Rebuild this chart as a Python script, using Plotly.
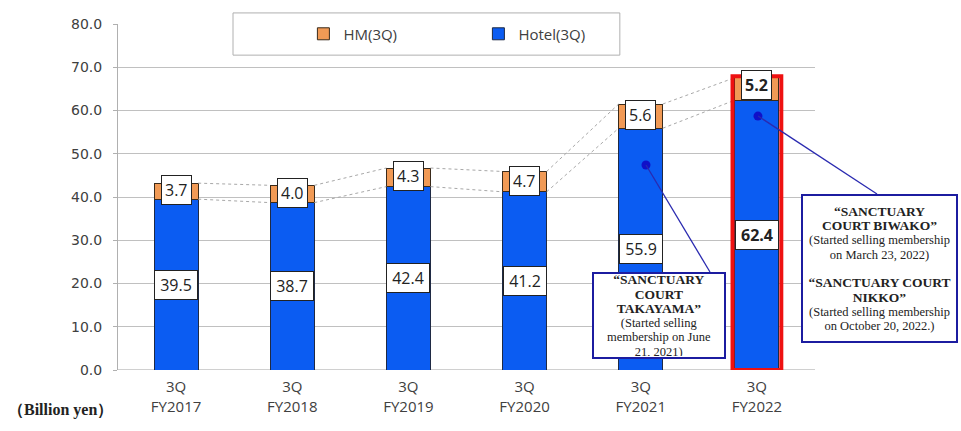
import plotly.graph_objects as go

categories = ["3Q<br>FY2017", "3Q<br>FY2018", "3Q<br>FY2019", "3Q<br>FY2020", "3Q<br>FY2021", "3Q<br>FY2022"]
hotel = [39.5, 38.7, 42.4, 41.2, 55.9, 62.4]
hm = [3.7, 4.0, 4.3, 4.7, 5.6, 5.2]
y_ticks = [0, 10, 20, 30, 40, 50, 60, 70, 80]

BLUE = "#0b5cf2"
ORANGE = "#f19a55"
BW = 0.38
xs = list(range(len(categories)))
totals = [h + m for h, m in zip(hotel, hm)]

fig = go.Figure()
fig.add_trace(go.Bar(x=xs, y=hotel, name="Hotel(3Q)", width=BW,
                     marker=dict(color=BLUE, line=dict(color="#1f2a44", width=1))))
fig.add_trace(go.Bar(x=xs, y=hm, name="HM(3Q)", width=BW,
                     marker=dict(color=ORANGE, line=dict(color="#3a2a1a", width=1))))

# dotted connector lines between bar edges
for series in (hotel, totals):
    lx, ly = [], []
    for i in range(len(xs) - 1):
        lx += [xs[i] + BW / 2, xs[i + 1] - BW / 2, None]
        ly += [series[i], series[i + 1], None]
    fig.add_trace(go.Scatter(x=lx, y=ly, mode="lines", showlegend=False, hoverinfo="skip",
                             line=dict(color="#a8a8a8", width=1, dash="dot")))

# callout dots
fig.add_trace(go.Scatter(x=[4.045, 5.009], y=[47.4, 58.7], mode="markers", showlegend=False,
                         hoverinfo="skip", marker=dict(color="#1010c8", size=9)))

annotations = []
last = len(xs) - 1
for i in xs:
    bold = i == last
    annotations.append(dict(x=xs[i], y=hotel[i] / 2, xref="x", yref="y", showarrow=False,
                            xanchor="center", yanchor="middle",
                            text=(f"<b>{hotel[i]:.1f}</b>" if bold else f"{hotel[i]:.1f}"),
                            font=dict(family="Open Sans", size=16, color="#222"),
                            bgcolor="white", bordercolor="#222", borderwidth=1, borderpad=3, width=36))
    annotations.append(dict(x=xs[i], y=hotel[i] + hm[i] / 2 + (0.8 if bold else 0.2), xref="x", yref="y",
                            showarrow=False, xanchor="center", yanchor="middle",
                            text=(f"<b>{hm[i]:.1f}</b>" if bold else f"{hm[i]:.1f}"),
                            font=dict(family="Open Sans", size=16, color="#222"),
                            bgcolor="white", bordercolor="#222", borderwidth=1, borderpad=3))

serif = "Liberation Serif"
B = "<span style='font-size:13.5px'><b>{}</b></span>"
R = "<span style='font-size:12.5px'>{}</span>"
annotations.append(dict(
    x=(659 - 118) / 697, y=(370 - 315.5) / 346, xref="paper", yref="paper", showarrow=False,
    xanchor="center", yanchor="middle", width=128, height=81,
    text="<br>".join([B.format("“SANCTUARY"), B.format("COURT"), B.format("TAKAYAMA”"),
                      R.format("(Started selling"), R.format("membership on June"), R.format("21, 2021)")]),
    font=dict(family=serif, size=11, color="#222"),
    bgcolor="white", bordercolor="#1c1ca0", borderwidth=2, borderpad=1))
annotations.append(dict(
    x=(879.5 - 118) / 697, y=(370 - 268.5) / 346, xref="paper", yref="paper", showarrow=False,
    xanchor="center", yanchor="middle", width=151, height=143,
    text="<br>".join([B.format("“SANCTUARY"), B.format("COURT BIWAKO”"),
                      R.format("(Started selling membership"), R.format("on March 23, 2022)"),
                      " ",
                      B.format("“SANCTUARY COURT"), B.format("NIKKO”"),
                      R.format("(Started selling membership"), R.format("on October 20, 2022.)")]),
    font=dict(family=serif, size=11, color="#222"),
    bgcolor="white", bordercolor="#1c1ca0", borderwidth=2, borderpad=1))
annotations.append(dict(
    x=(60 - 118) / 697, y=(370 - 410) / 346, xref="paper", yref="paper", showarrow=False,
    xanchor="center", yanchor="middle",
    text="<b>（Billion yen）</b>", font=dict(family=serif, size=16, color="#222")))

shapes = [
    # legend frame
    dict(type="rect", xref="paper", yref="paper", x0=0.165, x1=0.720, y0=0.910, y1=1.032,
         fillcolor="white", line=dict(color="#b0b0b0", width=1), layer="above"),
    # highlight frame on latest bar
    dict(type="rect", xref="x", yref="y", x0=xs[last] - BW / 2 - 0.02, x1=xs[last] + BW / 2 + 0.02,
         y0=0, y1=totals[last] + 0.3, line=dict(color="#ee1111", width=4), layer="above"),
    # callout leader lines
    dict(type="line", xref="x", yref="y", x0=4.045, y0=47.4, x1=4.596, y1=22.66,
         line=dict(color="#2a2ab0", width=1.3), layer="above"),
    dict(type="line", xref="paper", yref="paper", x0=(758 - 118) / 697, y0=(370 - 116) / 346,
         x1=(877 - 118) / 697, y1=(370 - 194) / 346,
         line=dict(color="#2a2ab0", width=1.3), layer="above"),
]

fig.update_layout(
    width=961, height=431,
    margin=dict(l=118, r=146, t=24, b=61),
    barmode="stack",
    plot_bgcolor="white", paper_bgcolor="white",
    showlegend=True,
    legend=dict(orientation="h", x=0.266, xanchor="left", y=0.971, yanchor="middle",
                traceorder="reversed", entrywidth=130, bgcolor="rgba(0,0,0,0)",
                font=dict(family="Open Sans", size=15, color="#404040")),
    xaxis=dict(range=[-0.5, 5.5], tickmode="array", tickvals=xs, ticktext=categories,
               showgrid=False, zeroline=False, showline=False, ticks="",
               ticklabelstandoff=6,
               tickfont=dict(family="Open Sans", size=15, color="#404040")),
    yaxis=dict(range=[0, 80], tickmode="array", tickvals=y_ticks,
               ticktext=[f"{v:.1f}" for v in y_ticks],
               showgrid=True, gridcolor="#c0c0c0", gridwidth=1, zeroline=False,
               showline=True, linecolor="#b0b0b0", linewidth=1,
               ticks="outside", ticklen=4, tickcolor="#b0b0b0", ticklabelstandoff=8,
               tickfont=dict(family="DejaVu Sans", size=14, color="#404040")),
    annotations=annotations,
    shapes=shapes,
)
fig.add_hline(y=0, line=dict(color="#a0a0a0", width=1), layer="below")

fig.write_html("out.html")
